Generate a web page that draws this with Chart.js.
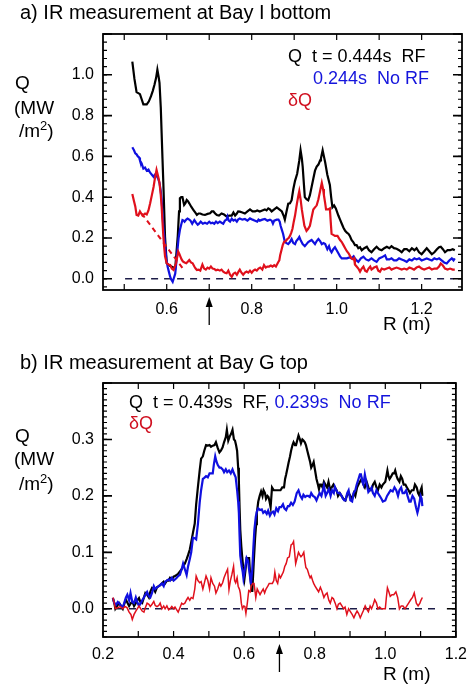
<!DOCTYPE html>
<html>
<head>
<meta charset="utf-8">
<script src="https://cdn.jsdelivr.net/npm/chart.js@4.4.1/dist/chart.umd.min.js"></script>
<style>
body { margin: 0; background: #fff; }
#page { position: relative; width: 475px; height: 687px; font-family: "Liberation Sans", Arial, sans-serif; color: #000; }
canvas { position: absolute; left: 0; }
.txt { position: absolute; white-space: pre; line-height: 1; }
.blue { color: #1414dc; }
.red { color: #d01020; }
.sup { font-size: 13px; position: relative; top: -7px; }
</style>
</head>
<body>
<div id="page">
  <canvas id="chart_a" width="475" height="340" style="top:0px"></canvas>
  <canvas id="chart_b" width="475" height="347" style="top:340px"></canvas>

  <div class="txt" style="left:20px;top:2px;font-size:20px">a) IR measurement at Bay I bottom</div>
  <div class="txt" style="left:288px;top:47px;font-size:18px">Q  t = 0.444s  RF</div>
  <div class="txt blue" style="left:313px;top:69px;font-size:18px">0.244s  No RF</div>
  <div class="txt red" style="left:288px;top:91px;font-size:18px">δQ</div>
  <div class="txt" style="left:15px;top:73px;font-size:19px">Q</div>
  <div class="txt" style="left:14px;top:98px;font-size:19px">(MW</div>
  <div class="txt" style="left:19px;top:121px;font-size:19px">/m<span class="sup">2</span>)</div>
  <div class="txt" style="left:383px;top:314px;font-size:19px">R (m)</div>

  <div class="txt" style="left:20px;top:352px;font-size:20px">b) IR measurement at Bay G top</div>
  <div class="txt" style="left:129px;top:393px;font-size:18px">Q  t = 0.439s  RF, <span class="blue">0.239s  No RF</span></div>
  <div class="txt red" style="left:129px;top:414px;font-size:18px">δQ</div>
  <div class="txt" style="left:15px;top:426px;font-size:19px">Q</div>
  <div class="txt" style="left:14px;top:449px;font-size:19px">(MW</div>
  <div class="txt" style="left:19px;top:474px;font-size:19px">/m<span class="sup">2</span>)</div>
  <div class="txt" style="left:383px;top:664px;font-size:19px">R (m)</div>
</div>

<script>
// ---- panel a: Bay I bottom ----
const a_rf_r = [
  0.519,0.524,0.529,0.533,0.537,0.541,0.545,0.553,0.558,0.563,
  0.567,0.571,0.575,0.578,0.581,0.583,0.586,0.588,0.590,0.592,
  0.594,0.596,0.600,0.606,0.612,0.616,0.620,0.623,0.626,0.629,
  0.631,0.634,0.637,0.641,0.644,0.647,0.650,0.653,0.658,0.663,
  0.667,0.671,0.675,0.679,0.684,0.690,0.696,0.702,0.706,0.710,
  0.714,0.718,0.723,0.729,0.735,0.741,0.747,0.753,0.757,0.761,
  0.765,0.768,0.772,0.778,0.784,0.790,0.796,0.802,0.808,0.813,
  0.819,0.825,0.831,0.835,0.839,0.843,0.847,0.853,0.859,0.865,
  0.871,0.875,0.878,0.882,0.886,0.890,0.894,0.898,0.902,0.907,
  0.912,0.915,0.918,0.920,0.923,0.925,0.929,0.933,0.937,0.941,
  0.945,0.949,0.953,0.957,0.961,0.963,0.967,0.970,0.973,0.978,
  0.984,0.987,0.990,0.994,0.998,1.004,1.008,1.012,1.016,1.020,
  1.024,1.028,1.031,1.035,1.039,1.043,1.047,1.051,1.055,1.059,
  1.065,1.071,1.076,1.082,1.088,1.094,1.100,1.106,1.112,1.118,
  1.124,1.129,1.135,1.141,1.147,1.153,1.159,1.165,1.171,1.177,
  1.183,1.188,1.194,1.200,1.206,1.212,1.218,1.224,1.230,1.236,
  1.241,1.245,1.250,1.255,1.261,1.267,1.273,1.278];
const a_rf_q = [
  1.065,0.98,0.915,0.91,0.905,0.88,0.855,0.855,0.87,0.895,
  0.92,0.95,0.985,1.025,0.99,0.96,0.84,0.714,0.59,0.47,
  0.34,0.206,0.076,0.065,0.059,0.055,0.051,0.13,0.21,0.33,
  0.395,0.40,0.40,0.362,0.37,0.386,0.38,0.37,0.352,0.337,
  0.325,0.313,0.32,0.32,0.315,0.313,0.318,0.321,0.33,0.33,
  0.32,0.313,0.31,0.32,0.315,0.305,0.31,0.31,0.325,0.31,
  0.32,0.33,0.329,0.325,0.32,0.33,0.34,0.33,0.33,0.335,
  0.33,0.335,0.34,0.335,0.345,0.34,0.33,0.34,0.35,0.34,
  0.33,0.31,0.29,0.33,0.368,0.37,0.385,0.44,0.48,0.515,
  0.58,0.63,0.59,0.55,0.46,0.40,0.39,0.385,0.41,0.45,
  0.49,0.53,0.55,0.56,0.58,0.59,0.63,0.60,0.57,0.51,
  0.46,0.40,0.35,0.36,0.345,0.31,0.29,0.27,0.25,0.235,
  0.226,0.22,0.21,0.19,0.18,0.165,0.165,0.15,0.155,0.14,
  0.15,0.157,0.14,0.13,0.145,0.157,0.145,0.14,0.15,0.157,
  0.15,0.16,0.15,0.147,0.14,0.13,0.145,0.145,0.135,0.15,
  0.14,0.15,0.13,0.12,0.135,0.15,0.135,0.12,0.13,0.145,
  0.155,0.157,0.145,0.13,0.14,0.14,0.145,0.14];

const a_norf_r = [
  0.519,0.523,0.526,0.529,0.532,0.535,0.537,0.541,0.545,0.549,
  0.553,0.557,0.561,0.565,0.569,0.572,0.576,0.580,0.583,0.586,
  0.588,0.590,0.592,0.594,0.596,0.599,0.602,0.605,0.608,0.611,
  0.614,0.617,0.620,0.623,0.626,0.628,0.631,0.634,0.637,0.640,
  0.642,0.646,0.649,0.653,0.656,0.660,0.665,0.669,0.673,0.676,
  0.680,0.685,0.690,0.695,0.700,0.704,0.708,0.712,0.716,0.720,
  0.725,0.729,0.733,0.737,0.741,0.743,0.746,0.749,0.753,0.757,
  0.761,0.765,0.768,0.772,0.778,0.784,0.790,0.796,0.802,0.808,
  0.813,0.816,0.819,0.825,0.831,0.837,0.843,0.847,0.850,0.853,
  0.859,0.863,0.866,0.868,0.871,0.874,0.878,0.882,0.886,0.890,
  0.894,0.898,0.902,0.905,0.909,0.912,0.915,0.920,0.925,0.929,
  0.933,0.937,0.941,0.945,0.949,0.953,0.957,0.961,0.965,0.969,
  0.973,0.978,0.982,0.985,0.988,0.992,0.996,1.000,1.004,1.008,
  1.012,1.018,1.024,1.030,1.035,1.040,1.043,1.047,1.051,1.057,
  1.063,1.069,1.075,1.082,1.088,1.094,1.100,1.106,1.110,1.114,
  1.118,1.124,1.129,1.135,1.141,1.147,1.153,1.159,1.165,1.171,
  1.177,1.183,1.188,1.194,1.200,1.206,1.212,1.218,1.224,1.230,
  1.236,1.241,1.247,1.253,1.259,1.265,1.271,1.275,1.278];
const a_norf_q = [
  0.645,0.63,0.615,0.61,0.60,0.595,0.58,0.565,0.54,0.545,
  0.53,0.535,0.52,0.51,0.50,0.51,0.505,0.49,0.47,0.43,
  0.39,0.32,0.255,0.21,0.16,0.10,0.06,0.035,0.01,-0.005,
  -0.015,0.005,0.025,0.09,0.157,0.20,0.239,0.265,0.288,0.285,
  0.28,0.29,0.295,0.29,0.285,0.27,0.288,0.275,0.265,0.27,
  0.28,0.27,0.275,0.27,0.28,0.272,0.275,0.27,0.28,0.273,
  0.28,0.275,0.27,0.285,0.29,0.305,0.285,0.28,0.295,0.285,
  0.29,0.28,0.29,0.296,0.29,0.293,0.285,0.296,0.29,0.285,
  0.28,0.29,0.285,0.29,0.293,0.285,0.29,0.285,0.27,0.285,
  0.29,0.29,0.28,0.26,0.24,0.22,0.18,0.175,0.17,0.18,
  0.195,0.175,0.17,0.185,0.195,0.205,0.19,0.17,0.16,0.17,
  0.18,0.185,0.19,0.18,0.17,0.185,0.195,0.185,0.17,0.175,
  0.17,0.145,0.16,0.14,0.13,0.145,0.155,0.14,0.125,0.11,
  0.10,0.10,0.10,0.105,0.10,0.11,0.10,0.09,0.083,0.10,
  0.108,0.095,0.09,0.10,0.09,0.083,0.10,0.105,0.11,0.115,
  0.095,0.095,0.10,0.09,0.09,0.10,0.095,0.09,0.083,0.095,
  0.09,0.10,0.095,0.10,0.09,0.095,0.10,0.095,0.09,0.10,
  0.095,0.10,0.09,0.08,0.075,0.09,0.10,0.09,0.10];

const a_delta_r = [
  0.519,0.523,0.526,0.529,0.533,0.537,0.540,0.543,0.546,0.549,
  0.553,0.557,0.561,0.565,0.569,0.572,0.576,0.580,0.583,0.586,
  0.588,0.590,0.592,0.594,0.596,0.600,0.604,0.608,0.612,0.616,
  0.619,0.622,0.625,0.627,0.630,0.632,0.635,0.638,0.642,0.646,
  0.650,0.653,0.657,0.661,0.665,0.668,0.671,0.675,0.679,0.684,
  0.688,0.692,0.696,0.700,0.704,0.708,0.712,0.716,0.720,0.725,
  0.729,0.733,0.737,0.741,0.745,0.749,0.753,0.757,0.761,0.765,
  0.769,0.772,0.776,0.780,0.784,0.788,0.792,0.796,0.800,0.804,
  0.808,0.812,0.816,0.820,0.825,0.829,0.833,0.837,0.841,0.845,
  0.849,0.853,0.857,0.862,0.865,0.867,0.870,0.873,0.876,0.880,
  0.884,0.887,0.890,0.893,0.896,0.899,0.902,0.905,0.907,0.910,
  0.912,0.915,0.918,0.921,0.924,0.929,0.933,0.937,0.941,0.945,
  0.949,0.953,0.957,0.959,0.962,0.965,0.968,0.970,0.973,0.975,
  0.980,0.984,0.986,0.988,0.992,0.996,1.002,1.008,1.012,1.016,
  1.020,1.024,1.028,1.032,1.035,1.039,1.041,1.043,1.047,1.051,
  1.055,1.059,1.063,1.067,1.071,1.075,1.079,1.082,1.088,1.094,
  1.098,1.102,1.106,1.112,1.118,1.124,1.129,1.135,1.141,1.147,
  1.153,1.159,1.165,1.171,1.177,1.182,1.188,1.194,1.200,1.206,
  1.212,1.218,1.224,1.230,1.236,1.241,1.245,1.250,1.255,1.261,
  1.267,1.273,1.278];
const a_delta_q = [
  0.416,0.38,0.355,0.313,0.31,0.33,0.32,0.31,0.315,0.32,
  0.315,0.335,0.37,0.41,0.45,0.49,0.534,0.50,0.47,0.41,
  0.355,0.28,0.21,0.155,0.11,0.076,0.07,0.068,0.05,0.043,
  0.06,0.076,0.11,0.133,0.12,0.11,0.095,0.085,0.08,0.076,
  0.085,0.092,0.08,0.076,0.06,0.05,0.043,0.045,0.04,0.07,
  0.05,0.045,0.055,0.05,0.06,0.05,0.048,0.042,0.045,0.04,
  0.045,0.035,0.03,0.027,0.04,0.02,0.01,0.025,0.03,0.02,
  0.035,0.045,0.03,0.02,0.03,0.035,0.03,0.04,0.03,0.04,
  0.045,0.04,0.05,0.055,0.045,0.067,0.055,0.06,0.06,0.065,
  0.06,0.067,0.06,0.08,0.09,0.115,0.14,0.165,0.18,0.185,
  0.195,0.20,0.21,0.225,0.245,0.28,0.31,0.35,0.375,0.41,
  0.43,0.39,0.34,0.30,0.26,0.235,0.245,0.26,0.30,0.34,
  0.35,0.36,0.39,0.41,0.44,0.47,0.44,0.41,0.37,0.34,
  0.34,0.345,0.28,0.22,0.215,0.21,0.21,0.19,0.18,0.165,
  0.15,0.135,0.125,0.11,0.10,0.095,0.10,0.07,0.06,0.05,
  0.035,0.05,0.06,0.04,0.035,0.05,0.06,0.045,0.055,0.06,
  0.04,0.035,0.05,0.045,0.05,0.055,0.045,0.05,0.055,0.05,
  0.045,0.05,0.045,0.055,0.05,0.045,0.055,0.06,0.05,0.045,
  0.05,0.055,0.045,0.05,0.05,0.06,0.075,0.065,0.05,0.045,
  0.05,0.045,0.045];

// dashed extrapolation of dQ under the strike point
const a_guess_r = [0.541, 0.638];
const a_guess_q = [0.32, 0.05];
const a_zero_r = [0.502, 1.275];

const a_x_ticks = [0.6, 0.8, 1.0, 1.2];
const a_y_ticks = [0.0, 0.2, 0.4, 0.6, 0.8, 1.0];

// ---- panel b: Bay G top ----
const b_rf_r = [
  0.228,0.232,0.235,0.240,0.246,0.251,0.256,0.261,0.265,0.270,
  0.274,0.279,0.283,0.288,0.293,0.297,0.302,0.306,0.311,0.316,
  0.320,0.325,0.330,0.334,0.339,0.344,0.348,0.353,0.358,0.362,
  0.367,0.372,0.376,0.381,0.386,0.390,0.395,0.400,0.404,0.409,
  0.413,0.418,0.423,0.427,0.432,0.437,0.441,0.446,0.450,0.455,
  0.460,0.464,0.469,0.474,0.478,0.483,0.487,0.492,0.497,0.502,
  0.506,0.511,0.516,0.520,0.525,0.530,0.534,0.539,0.543,0.548,
  0.551,0.555,0.559,0.563,0.567,0.571,0.574,0.577,0.580,0.583,
  0.585,0.587,0.589,0.592,0.594,0.597,0.601,0.604,0.607,0.611,
  0.614,0.617,0.619,0.623,0.627,0.631,0.634,0.636,0.640,0.644,
  0.648,0.652,0.655,0.659,0.662,0.666,0.669,0.672,0.675,0.679,
  0.684,0.688,0.693,0.698,0.703,0.708,0.713,0.716,0.719,0.723,
  0.726,0.730,0.733,0.737,0.740,0.744,0.747,0.751,0.754,0.758,
  0.761,0.765,0.768,0.772,0.775,0.779,0.783,0.787,0.790,0.794,
  0.797,0.801,0.805,0.809,0.812,0.815,0.818,0.822,0.826,0.830,
  0.835,0.839,0.844,0.848,0.853,0.857,0.862,0.866,0.871,0.876,
  0.881,0.887,0.891,0.896,0.901,0.906,0.911,0.915,0.920,0.924,
  0.928,0.933,0.938,0.942,0.947,0.952,0.956,0.961,0.965,0.970,
  0.975,0.979,0.984,0.989,0.993,1.000,1.003,1.006,1.009,1.012,
  1.017,1.021,1.025,1.028,1.032,1.035,1.040,1.044,1.048,1.052,
  1.057,1.061,1.066,1.070,1.075,1.080,1.084,1.089,1.093,1.097,
  1.100,1.103,1.105];
const b_rf_q = [
  0.019,0.01,0.0,0.005,0.01,0.005,0.0,0.01,0.016,0.01,
  0.005,0.01,0.013,0.005,0.01,0.015,0.019,0.012,0.01,0.02,
  0.028,0.025,0.02,0.03,0.037,0.035,0.03,0.038,0.04,0.042,
  0.045,0.048,0.045,0.05,0.05,0.055,0.052,0.057,0.058,0.06,
  0.062,0.066,0.07,0.075,0.08,0.088,0.095,0.105,0.118,0.135,
  0.151,0.185,0.216,0.245,0.266,0.27,0.28,0.29,0.289,0.29,
  0.287,0.289,0.29,0.295,0.285,0.277,0.28,0.286,0.295,0.304,
  0.317,0.298,0.305,0.31,0.317,0.30,0.298,0.29,0.28,0.25,
  0.227,0.18,0.14,0.11,0.095,0.075,0.054,0.07,0.09,0.09,
  0.09,0.06,0.048,0.03,0.08,0.125,0.15,0.17,0.19,0.20,
  0.208,0.20,0.21,0.205,0.195,0.20,0.198,0.19,0.18,0.215,
  0.21,0.21,0.21,0.21,0.21,0.215,0.215,0.23,0.238,0.25,
  0.259,0.27,0.28,0.29,0.295,0.29,0.29,0.30,0.307,0.30,
  0.293,0.30,0.298,0.295,0.29,0.28,0.27,0.26,0.25,0.255,
  0.26,0.245,0.23,0.22,0.212,0.22,0.22,0.215,0.225,0.22,
  0.215,0.225,0.21,0.215,0.22,0.215,0.21,0.20,0.205,0.20,
  0.195,0.192,0.20,0.205,0.20,0.194,0.205,0.20,0.215,0.22,
  0.225,0.23,0.22,0.215,0.225,0.215,0.21,0.21,0.22,0.225,
  0.215,0.21,0.22,0.215,0.22,0.225,0.235,0.245,0.235,0.23,
  0.235,0.24,0.24,0.245,0.235,0.23,0.225,0.235,0.23,0.22,
  0.22,0.215,0.21,0.205,0.21,0.21,0.22,0.215,0.205,0.20,
  0.21,0.215,0.20];

const b_norf_r = [
  0.228,0.232,0.237,0.242,0.246,0.251,0.256,0.260,0.265,0.269,
  0.274,0.278,0.283,0.288,0.293,0.297,0.302,0.307,0.311,0.316,
  0.320,0.325,0.330,0.334,0.339,0.344,0.348,0.353,0.358,0.362,
  0.367,0.372,0.376,0.381,0.386,0.390,0.395,0.400,0.404,0.409,
  0.413,0.418,0.423,0.427,0.432,0.437,0.441,0.446,0.450,0.455,
  0.460,0.464,0.469,0.474,0.478,0.483,0.487,0.492,0.497,0.502,
  0.506,0.511,0.514,0.518,0.521,0.525,0.530,0.534,0.539,0.543,
  0.548,0.552,0.557,0.562,0.567,0.571,0.576,0.580,0.583,0.585,
  0.587,0.589,0.593,0.596,0.598,0.602,0.607,0.611,0.614,0.617,
  0.619,0.623,0.626,0.629,0.633,0.636,0.640,0.645,0.650,0.654,
  0.659,0.664,0.668,0.673,0.677,0.682,0.686,0.691,0.696,0.700,
  0.705,0.710,0.714,0.719,0.724,0.728,0.733,0.738,0.743,0.749,
  0.754,0.759,0.764,0.768,0.773,0.777,0.781,0.786,0.790,0.795,
  0.800,0.805,0.810,0.814,0.819,0.823,0.826,0.831,0.835,0.840,
  0.845,0.849,0.854,0.857,0.861,0.866,0.871,0.876,0.880,0.884,
  0.887,0.892,0.896,0.901,0.906,0.910,0.915,0.919,0.924,0.928,
  0.931,0.935,0.938,0.942,0.946,0.952,0.956,0.961,0.965,0.970,
  0.975,0.979,0.984,0.989,0.993,1.000,1.005,1.010,1.015,1.021,
  1.026,1.031,1.036,1.040,1.045,1.049,1.054,1.059,1.063,1.068,
  1.072,1.077,1.082,1.087,1.091,1.093,1.096,1.100,1.103,1.105];
const b_norf_q = [
  0.019,0.01,0.007,0.012,0.01,0.005,0.003,0.01,0.02,0.025,
  0.015,0.028,0.012,0.01,0.02,0.012,0.005,0.01,0.015,0.02,
  0.025,0.03,0.022,0.02,0.028,0.04,0.035,0.038,0.04,0.042,
  0.045,0.04,0.048,0.05,0.052,0.05,0.055,0.05,0.052,0.055,
  0.058,0.06,0.07,0.08,0.07,0.06,0.075,0.088,0.10,0.126,
  0.125,0.123,0.15,0.188,0.21,0.23,0.232,0.235,0.233,0.24,
  0.24,0.24,0.255,0.27,0.262,0.255,0.25,0.25,0.247,0.242,
  0.247,0.242,0.245,0.24,0.247,0.24,0.233,0.21,0.19,0.17,
  0.13,0.094,0.075,0.065,0.054,0.07,0.09,0.085,0.07,0.055,
  0.043,0.07,0.107,0.14,0.163,0.172,0.178,0.175,0.176,0.17,
  0.173,0.168,0.174,0.165,0.17,0.172,0.167,0.178,0.173,0.18,
  0.18,0.185,0.178,0.175,0.182,0.182,0.188,0.184,0.19,0.205,
  0.21,0.20,0.195,0.202,0.198,0.20,0.20,0.198,0.205,0.20,
  0.198,0.192,0.20,0.205,0.20,0.21,0.218,0.20,0.205,0.212,
  0.20,0.21,0.205,0.216,0.21,0.205,0.205,0.20,0.195,0.192,
  0.192,0.205,0.21,0.192,0.19,0.205,0.21,0.22,0.23,0.238,
  0.238,0.225,0.22,0.238,0.225,0.207,0.21,0.215,0.205,0.20,
  0.21,0.205,0.20,0.195,0.19,0.192,0.20,0.205,0.21,0.208,
  0.215,0.21,0.20,0.21,0.215,0.205,0.205,0.21,0.20,0.19,
  0.19,0.20,0.195,0.18,0.17,0.175,0.185,0.20,0.195,0.182];

const b_delta_r = [
  0.228,0.232,0.235,0.242,0.249,0.256,0.262,0.268,0.274,0.279,
  0.283,0.288,0.293,0.297,0.302,0.307,0.311,0.316,0.320,0.325,
  0.330,0.334,0.339,0.344,0.348,0.353,0.358,0.362,0.367,0.372,
  0.376,0.381,0.386,0.390,0.395,0.400,0.404,0.409,0.413,0.418,
  0.423,0.427,0.432,0.437,0.441,0.446,0.450,0.455,0.460,0.464,
  0.469,0.474,0.478,0.483,0.487,0.492,0.497,0.502,0.506,0.511,
  0.516,0.520,0.525,0.530,0.534,0.539,0.543,0.548,0.553,0.557,
  0.561,0.565,0.567,0.570,0.573,0.576,0.580,0.583,0.587,0.589,
  0.592,0.595,0.599,0.602,0.605,0.609,0.613,0.617,0.620,0.624,
  0.628,0.633,0.637,0.641,0.645,0.649,0.654,0.658,0.662,0.667,
  0.671,0.676,0.680,0.684,0.687,0.691,0.695,0.699,0.703,0.707,
  0.711,0.715,0.719,0.723,0.728,0.731,0.733,0.737,0.740,0.743,
  0.746,0.750,0.754,0.758,0.761,0.765,0.769,0.772,0.775,0.779,
  0.784,0.787,0.790,0.794,0.797,0.801,0.806,0.811,0.816,0.821,
  0.826,0.830,0.835,0.840,0.844,0.849,0.853,0.858,0.863,0.867,
  0.872,0.877,0.882,0.886,0.891,0.896,0.901,0.906,0.911,0.915,
  0.920,0.924,0.929,0.933,0.938,0.943,0.947,0.952,0.957,0.961,
  0.966,0.970,0.975,0.979,0.984,0.989,0.993,1.000,1.003,1.006,
  1.010,1.014,1.019,1.024,1.030,1.035,1.040,1.045,1.050,1.056,
  1.061,1.066,1.072,1.077,1.082,1.088,1.093,1.098,1.101,1.105];
const b_delta_q = [
  0.02,0.01,0.0,0.002,0.004,0.0,0.004,0.002,-0.006,-0.01,
  -0.019,-0.01,-0.004,0.0,0.005,0.0,-0.004,-0.006,0.002,0.01,
  0.008,0.004,0.008,0.013,0.006,0.004,0.006,0.01,0.0,0.005,
  0.0,0.005,-0.002,0.0,0.004,0.0,0.003,-0.002,-0.006,0.002,
  0.01,0.008,0.01,0.016,0.02,0.015,0.02,0.018,0.035,0.058,
  0.05,0.046,0.048,0.035,0.045,0.058,0.05,0.035,0.055,0.045,
  0.04,0.028,0.035,0.045,0.04,0.046,0.055,0.063,0.07,0.034,
  0.05,0.06,0.066,0.075,0.05,0.046,0.055,0.04,0.034,0.028,
  0.01,0.0,0.005,0.004,-0.008,0.01,0.032,0.03,0.04,0.045,
  0.045,0.02,0.035,0.03,0.025,0.03,0.035,0.028,0.035,0.04,
  0.045,0.045,0.045,0.05,0.065,0.05,0.045,0.06,0.055,0.06,
  0.065,0.075,0.08,0.09,0.092,0.105,0.113,0.115,0.119,0.10,
  0.08,0.09,0.10,0.095,0.092,0.095,0.10,0.085,0.073,0.07,
  0.06,0.055,0.058,0.05,0.045,0.04,0.035,0.03,0.038,0.03,
  0.02,0.025,0.028,0.015,0.01,0.02,0.018,0.01,0.0,0.008,
  0.01,0.005,0.0,0.003,-0.01,0.0,-0.005,-0.01,-0.016,-0.01,
  -0.004,-0.008,-0.016,-0.01,-0.003,0.005,0.0,-0.005,0.005,0.0,
  0.008,0.016,0.01,0.0,0.003,0.0,0.0,0.0,0.02,0.037,
  0.03,0.022,0.025,0.025,0.03,0.02,0.0,0.005,0.005,0.0,
  0.005,0.01,0.016,0.02,0.028,0.01,0.005,0.01,0.015,0.02];

const b_zero_r = [0.2, 1.15];

const b_x_ticks = [0.2, 0.4, 0.6, 0.8, 1.0, 1.2];
const b_y_ticks = [0.0, 0.1, 0.2, 0.3];

const FONT = '"Liberation Sans", Arial, sans-serif';
const BLACK = '#000000';
const BLUE = '#1010e0';
const RED = '#e0101c';

function series(r_values, q_values) {
    return r_values.map((r, i) => ({x: r, y: q_values[i]}));
}

// box round the plot, inward tick marks, and the arrow under the axis
const frame_plugin = {
    id: 'frame',
    afterDatasetsDraw(chart, args, o) {
        const ctx = chart.ctx;
        const a = chart.chartArea;
        const xs = chart.scales.x;
        const ys = chart.scales.y;

        ctx.save();
        ctx.strokeStyle = '#000';
        ctx.lineWidth = 1.8;
        ctx.strokeRect(a.left, a.top, a.right - a.left, a.bottom - a.top);

        ctx.lineWidth = 1.2;
        ctx.beginPath();
        // x ticks, top and bottom
        for (let k = Math.ceil(xs.min / o.x_step - 1e-6); k * o.x_step <= xs.max + 1e-6; k++) {
            const px = xs.getPixelForValue(k * o.x_step);
            ctx.moveTo(px, a.bottom); ctx.lineTo(px, a.bottom - o.x_len);
            ctx.moveTo(px, a.top); ctx.lineTo(px, a.top + o.x_len);
        }
        // y minor ticks
        for (let k = Math.ceil(ys.min / o.y_minor - 1e-6); k * o.y_minor <= ys.max + 1e-6; k++) {
            const py = ys.getPixelForValue(k * o.y_minor);
            ctx.moveTo(a.left, py); ctx.lineTo(a.left + 4, py);
            ctx.moveTo(a.right, py); ctx.lineTo(a.right - 4, py);
        }
        ctx.stroke();

        ctx.lineWidth = 1.6;
        ctx.beginPath();
        for (let k = Math.ceil(ys.min / o.y_major - 1e-6); k * o.y_major <= ys.max + 1e-6; k++) {
            const py = ys.getPixelForValue(k * o.y_major);
            ctx.moveTo(a.left, py); ctx.lineTo(a.left + 9, py);
            ctx.moveTo(a.right, py); ctx.lineTo(a.right - 9, py);
        }
        ctx.stroke();

        // arrow marking R = 0.7
        const ax = xs.getPixelForValue(o.arrow_at);
        const tip = a.bottom + 7;
        ctx.lineWidth = 1.3;
        ctx.beginPath();
        ctx.moveTo(ax, a.bottom + 35);
        ctx.lineTo(ax, tip + 6);
        ctx.stroke();
        ctx.fillStyle = '#000';
        ctx.beginPath();
        ctx.moveTo(ax, tip);
        ctx.lineTo(ax - 3.5, tip + 10);
        ctx.lineTo(ax + 3.5, tip + 10);
        ctx.closePath();
        ctx.fill();
        ctx.restore();
    }
};

function make_chart(canvas_id, cfg) {
    const line = (data, color, width, order, dash) => ({
        data: data,
        borderColor: color,
        borderWidth: width,
        borderDash: dash || [],
        pointRadius: 0,
        tension: 0,
        fill: false,
        order: order
    });

    const datasets = [
        line(series(cfg.zero_r, cfg.zero_r.map(() => 0)), '#1c1c48', 1.4, 9, [7, 6]),
        line(series(cfg.rf_r, cfg.rf_q), BLACK, cfg.width, 3),
        line(series(cfg.norf_r, cfg.norf_q), BLUE, cfg.width, 2),
        line(series(cfg.delta_r, cfg.delta_q), RED, cfg.red_width, 1)
    ];
    if (cfg.guess_r) {
        datasets.push(line(series(cfg.guess_r, cfg.guess_q), RED, 2, 0, [5, 4]));
    }

    return new Chart(document.getElementById(canvas_id), {
        type: 'line',
        data: {datasets: datasets},
        options: {
            responsive: false,
            animation: false,
            devicePixelRatio: 1,
            layout: {padding: {left: 0, right: 13, top: cfg.top, bottom: 0}},
            plugins: {
                legend: {display: false},
                tooltip: {enabled: false},
                frame: cfg.frame
            },
            scales: {
                x: {
                    type: 'linear',
                    min: cfg.x_min,
                    max: cfg.x_max,
                    grid: {display: false, drawTicks: false},
                    border: {display: false},
                    ticks: {
                        font: {family: FONT, size: 16},
                        color: '#000',
                        padding: cfg.x_pad,
                        maxRotation: 0,
                        autoSkip: false,
                        callback: v => v.toFixed(1)
                    },
                    afterBuildTicks: s => { s.ticks = cfg.x_ticks.map(v => ({value: v})); },
                    afterFit: s => { s.height = 50; }
                },
                y: {
                    type: 'linear',
                    min: cfg.y_min,
                    max: cfg.y_max,
                    grid: {display: false, drawTicks: false},
                    border: {display: false},
                    ticks: {
                        font: {family: FONT, size: 16},
                        color: '#000',
                        padding: 9,
                        autoSkip: false,
                        callback: v => v.toFixed(1)
                    },
                    afterBuildTicks: s => { s.ticks = cfg.y_ticks.map(v => ({value: v})); },
                    afterFit: s => { s.width = 103; }
                }
            }
        },
        plugins: [frame_plugin]
    });
}

window.onload = function() {
    make_chart('chart_a', {
        rf_r: a_rf_r, rf_q: a_rf_q,
        norf_r: a_norf_r, norf_q: a_norf_q,
        delta_r: a_delta_r, delta_q: a_delta_q,
        guess_r: a_guess_r, guess_q: a_guess_q,
        zero_r: a_zero_r,
        x_ticks: a_x_ticks, y_ticks: a_y_ticks,
        x_min: 0.45, x_max: 1.295, y_min: -0.055, y_max: 1.2,
        top: 34, x_pad: 10, width: 2.2, red_width: 2.2,
        frame: {x_step: 0.1, x_len: 6, y_major: 0.2, y_minor: 0.04, arrow_at: 0.7}
    });
    make_chart('chart_b', {
        rf_r: b_rf_r, rf_q: b_rf_q,
        norf_r: b_norf_r, norf_q: b_norf_q,
        delta_r: b_delta_r, delta_q: b_delta_q,
        zero_r: b_zero_r,
        x_ticks: b_x_ticks, y_ticks: b_y_ticks,
        x_min: 0.2, x_max: 1.2, y_min: -0.05, y_max: 0.4,
        top: 43, x_pad: 8, width: 2.2, red_width: 1.5,
        frame: {x_step: 0.1, x_len: 6, y_major: 0.1, y_minor: 0.01, arrow_at: 0.7}
    });
}
</script>
</body>
</html>
